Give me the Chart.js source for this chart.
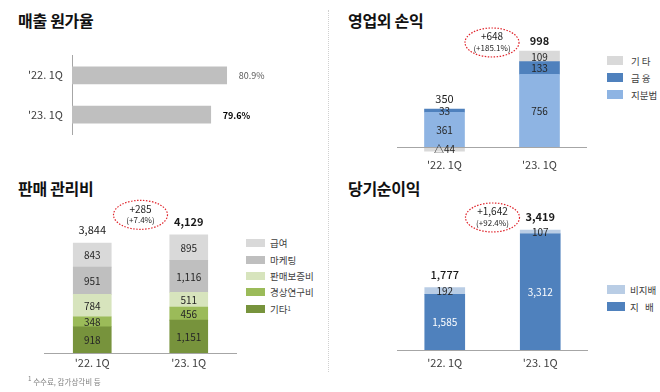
<!DOCTYPE html>
<html>
<head>
<meta charset="utf-8">
<script src="https://cdn.jsdelivr.net/npm/chart.js@4.4.0/dist/chart.umd.min.js"></script>
<style>
  body { margin: 0; background: #fff; }
  #wrap { position: relative; width: 660px; height: 392px; overflow: hidden; font-family: 'Noto Sans CJK KR', 'Noto Sans', sans-serif; }
  #wrap canvas, .title, .legend, .note, .sep { position: absolute; }
  .title { font-size: 16px; font-weight: bold; line-height: 20px; color: #111; letter-spacing: -0.3px; }
  .legend { font-size: 9.5px; color: #404040; }
  .legend .item { display: flex; align-items: center; white-space: pre; }
  .sep { left: 328px; top: 10px; height: 362px; border-left: 1px dotted #d0d0d0; }
  .note { left: 28px; top: 372px; font-size: 7.5px; color: #808080; line-height: 14px; }
</style>
</head>
<body>
<div id="wrap">
  <div class="title" style="left:18px;top:10px">매출 원가율</div>
  <div class="title" style="left:348px;top:10px">영업외 손익</div>
  <div class="title" style="left:18px;top:178px">판매 관리비</div>
  <div class="title" style="left:348px;top:178px">당기순이익</div>
  <div class="sep"></div>

  <canvas id="cost" width="320" height="110" style="left:0;top:40px"></canvas>
  <canvas id="nonop" width="190" height="160" style="left:397px;top:20px"></canvas>
  <canvas id="sga" width="193" height="180" style="left:44px;top:196px"></canvas>
  <canvas id="net" width="191" height="190" style="left:397px;top:190px"></canvas>

  <div class="legend" id="lgNonop" style="left:607px;top:52px"></div>
  <div class="legend" id="lgSga" style="left:246px;top:235px"></div>
  <div class="legend" id="lgNet" style="left:607px;top:281px"></div>

  <div class="note"><sup>1</sup> 수수료, 감가상각비 등</div>
</div>
<script>
const FONT = "'Noto Sans CJK KR', 'Noto Sans', sans-serif";
Chart.defaults.font.family = FONT;
Chart.defaults.color = '#404040';

// data
const periods = ["'22. 1Q", "'23. 1Q"];

const costRatio = [80.9, 79.6];

const nonOpEquity = [361, 756];
const nonOpFinance = [33, 133];
const nonOpOther = [-44, 109];

const sgaOther = [918, 1151];
const sgaRnd = [348, 456];
const sgaWarranty = [784, 511];
const sgaMarketing = [951, 1116];
const sgaSalary = [843, 895];

const netControlling = [1585, 3312];
const netNonControlling = [192, 107];

function fmt(v) {
    if (v < 0) return '△' + Math.abs(v).toLocaleString('en-US');
    return v.toLocaleString('en-US');
}

// labels inside stacks, totals above, change in dotted ellipse
const stackLabels = {
    id: 'stackLabels',
    afterDatasetsDraw(chart, args, o) {
        const ctx = chart.ctx;
        const area = chart.chartArea;
        ctx.save();

        const y0 = chart.scales.y.getPixelForValue(0);
        ctx.strokeStyle = '#a6a6a6';
        ctx.lineWidth = 1;
        ctx.beginPath();
        ctx.moveTo(area.left, Math.round(y0) + 0.5);
        ctx.lineTo(area.right, Math.round(y0) + 0.5);
        ctx.stroke();

        ctx.textAlign = 'center';
        ctx.textBaseline = 'middle';
        chart.data.datasets.forEach((ds, i) => {
            chart.getDatasetMeta(i).data.forEach((bar, j) => {
                ctx.fillStyle = ds.textColor || '#262626';
                ctx.font = '10px ' + FONT;
                ctx.fillText(fmt(ds.data[j]), bar.x, (bar.y + bar.base) / 2 + 0.5);
            });
        });

        const tops = chart.data.labels.map((l, j) => {
            let total = 0, top = Infinity, x = 0;
            chart.data.datasets.forEach((ds, i) => {
                const bar = chart.getDatasetMeta(i).data[j];
                total += ds.data[j];
                top = Math.min(top, bar.y, bar.base);
                x = bar.x;
            });
            ctx.fillStyle = '#1a1a1a';
            ctx.font = (j === 1 ? 'bold ' : (o.firstWeight || 'normal') + ' ') + '11px ' + FONT;
            ctx.fillText(total.toLocaleString('en-US'), x, top - o.totalGap);
            return { total, top, x };
        });

        const a = tops[0], b = tops[1];
        const diff = b.total - a.total;
        const pct = diff / a.total * 100;
        const cx = (a.x + b.x) / 2;
        const cy = Math.min(a.top, b.top) - o.ellipseGap;
        ctx.beginPath();
        ctx.ellipse(cx, cy, 27, 14.5, 0, 0, Math.PI * 2);
        ctx.setLineDash([1.5, 1.5]);
        ctx.strokeStyle = '#e0262d';
        ctx.lineWidth = 1.2;
        ctx.stroke();
        ctx.setLineDash([]);
        ctx.fillStyle = '#262626';
        ctx.font = '10px ' + FONT;
        ctx.fillText('+' + diff.toLocaleString('en-US'), cx, cy - 6);
        ctx.font = '8px ' + FONT;
        ctx.fillText('(+' + pct.toFixed(1) + '%)', cx, cy + 5.5);
        ctx.restore();
    }
};

function stackedChart(id, datasets, yMin, yMax, barW, axisH, pad, o) {
    return new Chart(document.getElementById(id), {
        type: 'bar',
        data: {
            labels: periods,
            datasets: datasets.map(d => Object.assign({ barThickness: barW, borderWidth: 0 }, d))
        },
        options: {
            responsive: false,
            devicePixelRatio: 1,
            animation: false,
            layout: { padding: 0 },
            plugins: { legend: { display: false }, tooltip: { enabled: false }, stackLabels: o },
            scales: {
                x: {
                    stacked: true,
                    grid: { display: false, drawTicks: false },
                    border: { display: false },
                    ticks: { padding: pad, color: '#404040', font: { size: 11 } },
                    afterFit: s => { s.height = axisH; }
                },
                y: { stacked: true, display: false, min: yMin, max: yMax }
            }
        },
        plugins: [stackLabels]
    });
}

// 매출 원가율
const costLabels = {
    id: 'costLabels',
    afterDatasetsDraw(chart) {
        const ctx = chart.ctx;
        ctx.save();
        ctx.textAlign = 'left';
        ctx.textBaseline = 'middle';
        chart.getDatasetMeta(0).data.forEach((bar, j) => {
            ctx.fillStyle = j === 1 ? '#000' : '#595959';
            ctx.font = (j === 1 ? 'bold ' : '') + '9px ' + FONT;
            ctx.fillText(costRatio[j].toFixed(1) + '%', bar.x + 12, bar.y + 0.5);
        });
        ctx.restore();
    }
};

new Chart(document.getElementById('cost'), {
    type: 'bar',
    data: {
        labels: periods,
        datasets: [{ data: costRatio, backgroundColor: '#bfbfbf', barThickness: 17, borderWidth: 0 }]
    },
    options: {
        indexAxis: 'y',
        responsive: false,
        devicePixelRatio: 1,
        animation: false,
        layout: { padding: { top: 12, bottom: 13, left: 0, right: 0 } },
        plugins: { legend: { display: false }, tooltip: { enabled: false } },
        scales: {
            x: { display: false, min: 68.3, max: 88.5 },
            y: {
                grid: { display: false, drawTicks: false },
                border: { display: true, color: '#a6a6a6' },
                ticks: { padding: 9, color: '#404040', font: { size: 11 } },
                afterFit: s => { s.width = 72; }
            }
        }
    },
    plugins: [costLabels]
});

// 영업외 손익
stackedChart('nonop', [
    { label: '지분법', data: nonOpEquity, backgroundColor: '#8eb4e3' },
    { label: '금 융', data: nonOpFinance, backgroundColor: '#4f81bd' },
    { label: '기 타', data: nonOpOther, backgroundColor: '#d9d9d9' }
], -52, 1320, 40, 28, 6, { totalGap: 10, ellipseGap: 8.5 });

// 판매 관리비
stackedChart('sga', [
    { label: '기타¹', data: sgaOther, backgroundColor: '#77933c' },
    { label: '경상연구비', data: sgaRnd, backgroundColor: '#9bbb59' },
    { label: '판매보증비', data: sgaWarranty, backgroundColor: '#d7e4bd' },
    { label: '마케팅', data: sgaMarketing, backgroundColor: '#bfbfbf' },
    { label: '급여', data: sgaSalary, backgroundColor: '#d9d9d9' }
], 0, 5486, 38, 23, 3, { totalGap: 13, ellipseGap: 20 });

// 당기순이익
stackedChart('net', [
    { label: '지   배', data: netControlling, backgroundColor: '#4f81bd', textColor: '#ffffff' },
    { label: '비지배', data: netNonControlling, backgroundColor: '#b9cde5' }
], 0, 4558, 40, 30, 6, { totalGap: 13, ellipseGap: 12.5, firstWeight: '500' });

// legends, listed top of stack first
function legend(id, labels, colors, sw, sh, step, gap) {
    const el = document.getElementById(id);
    labels.forEach((l, i) => {
        const item = document.createElement('div');
        item.className = 'item';
        item.style.height = step + 'px';
        item.innerHTML = '<span style="display:inline-block;width:' + sw + 'px;height:' + sh +
            'px;background:' + colors[i] + ';margin-right:' + gap + 'px"></span>' + l;
        el.appendChild(item);
    });
}
legend('lgNonop', ['기 타', '금 융', '지분법'], ['#d9d9d9', '#4f81bd', '#8eb4e3'], 16, 9, 17, 8);
legend('lgSga', ['급여', '마케팅', '판매보증비', '경상연구비', '기타<sup style="font-size:6px">1</sup>'],
    ['#d9d9d9', '#bfbfbf', '#d7e4bd', '#9bbb59', '#77933c'], 19, 8, 16.4, 5);
legend('lgNet', ['비지배', '지   배'], ['#b9cde5', '#4f81bd'], 18, 9, 17, 5);
</script>
</body>
</html>
